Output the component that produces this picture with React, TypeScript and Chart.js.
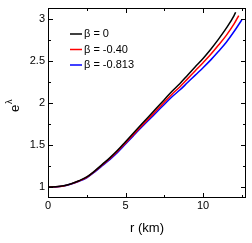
import React, { useEffect, useRef } from "react";
import { Chart, registerables } from "chart.js";

Chart.register(...registerables);

const rGrid = [0, 0.5, 1, 1.5, 2, 2.5, 3, 3.5, 4, 4.5, 5, 5.5, 6, 6.5, 7, 7.5, 8, 8.5, 9, 9.5, 10, 10.5, 11, 11.5, 12];

const r0 = [...rGrid, 12.1];
const e0 = [1.0, 1.003, 1.015, 1.04, 1.075, 1.12, 1.19, 1.27, 1.35, 1.44, 1.54, 1.64, 1.74, 1.84, 1.94, 2.04, 2.14, 2.23, 2.33, 2.43, 2.53, 2.64, 2.76, 2.89, 3.04, 3.08];

const r40 = [...rGrid, 12.3];
const e40 = [1.0, 1.003, 1.014, 1.038, 1.072, 1.116, 1.185, 1.263, 1.34, 1.428, 1.525, 1.623, 1.72, 1.816, 1.913, 2.009, 2.105, 2.191, 2.287, 2.384, 2.48, 2.58, 2.69, 2.805, 2.94, 3.04];

const r813 = [...rGrid, 12.5];
const e813 = [1.0, 1.002, 1.013, 1.036, 1.069, 1.111, 1.178, 1.254, 1.33, 1.416, 1.512, 1.609, 1.705, 1.798, 1.89, 1.983, 2.075, 2.154, 2.243, 2.332, 2.42, 2.513, 2.615, 2.723, 2.85, 2.99];

const seriesLabels = ["β = 0", "β = -0.40", "β = -0.813"];
const seriesColors = ["#000000", "#ff0000", "#0000ff"];

const xMajorTicks = [0, 5, 10];
const xMinorTicks = [2.5, 7.5, 12.5];
const yMajorTicks = [1, 1.5, 2, 2.5, 3];
const yMinorTicks = [1.25, 1.75, 2.25, 2.75];

const FONT = "'Liberation Sans', Arial, sans-serif";

const framePlugin = {
  id: "framePlugin",
  afterDraw(chart: any) {
    const ctx = chart.ctx;
    const { left, right, top, bottom } = chart.chartArea;
    const xs = chart.scales.x;
    const ys = chart.scales.y;
    ctx.save();
    ctx.strokeStyle = "#000";
    ctx.lineWidth = 1;
    ctx.strokeRect(left + 0.5, top + 0.5, right - left - 1, bottom - top - 1);
    const major = 5;
    const minor = 3;
    ctx.beginPath();
    xMajorTicks.forEach((v) => {
      const px = Math.round(xs.getPixelForValue(v)) + 0.5;
      ctx.moveTo(px, bottom); ctx.lineTo(px, bottom - major);
      ctx.moveTo(px, top); ctx.lineTo(px, top + major);
    });
    xMinorTicks.forEach((v) => {
      const px = Math.round(xs.getPixelForValue(v)) + 0.5;
      ctx.moveTo(px, bottom); ctx.lineTo(px, bottom - minor);
      ctx.moveTo(px, top); ctx.lineTo(px, top + minor);
    });
    yMajorTicks.forEach((v) => {
      const py = Math.round(ys.getPixelForValue(v)) + 0.5;
      ctx.moveTo(left, py); ctx.lineTo(left + major, py);
      ctx.moveTo(right, py); ctx.lineTo(right - major, py);
    });
    yMinorTicks.forEach((v) => {
      const py = Math.round(ys.getPixelForValue(v)) + 0.5;
      ctx.moveTo(left, py); ctx.lineTo(left + minor, py);
      ctx.moveTo(right, py); ctx.lineTo(right - minor, py);
    });
    ctx.stroke();

    // tick labels
    ctx.fillStyle = "#000";
    ctx.font = `11px ${FONT}`;
    ctx.textAlign = "center";
    ctx.textBaseline = "top";
    xMajorTicks.forEach((v) => {
      ctx.fillText(String(v), xs.getPixelForValue(v), bottom + 2);
    });
    ctx.textAlign = "right";
    ctx.textBaseline = "middle";
    yMajorTicks.forEach((v) => {
      ctx.fillText(String(v), left - 3, ys.getPixelForValue(v));
    });

    // axis titles
    ctx.font = `13px ${FONT}`;
    ctx.textAlign = "center";
    ctx.textBaseline = "middle";
    ctx.fillText("r (km)", (left + right) / 2, 228);

    ctx.save();
    ctx.translate(14, (top + bottom) / 2 + 2);
    ctx.rotate(-Math.PI / 2);
    ctx.font = `13px ${FONT}`;
    ctx.textAlign = "left";
    ctx.textBaseline = "alphabetic";
    const ew = ctx.measureText("e").width;
    const sw = 7;
    const total = ew + sw;
    ctx.fillText("e", -total / 2, 5);
    ctx.font = `9px ${FONT}`;
    ctx.fillText("λ", -total / 2 + ew + 1, -2);
    ctx.restore();

    // legend
    ctx.font = `11px ${FONT}`;
    ctx.textAlign = "left";
    ctx.textBaseline = "middle";
    chart.data.datasets.forEach((ds: any, i: number) => {
      const y = 34 + i * 15.5;
      ctx.strokeStyle = ds.borderColor;
      ctx.lineWidth = 1.5;
      ctx.beginPath();
      ctx.moveTo(70, y);
      ctx.lineTo(82, y);
      ctx.stroke();
      ctx.fillStyle = "#000";
      ctx.fillText(ds.label, 84, y);
    });
    ctx.restore();
  },
};

function toPoints(rs: number[], es: number[]) {
  return rs.map((r, i) => ({ x: r, y: es[i] }));
}

export default function App() {
  const ref = useRef<HTMLCanvasElement>(null);
  useEffect(() => {
    const canvas = ref.current!;
    const chart = new Chart(canvas, {
      type: "line",
      data: {
        datasets: [
          { label: seriesLabels[0], data: toPoints(r0, e0), borderColor: seriesColors[0] },
          { label: seriesLabels[1], data: toPoints(r40, e40), borderColor: seriesColors[1] },
          { label: seriesLabels[2], data: toPoints(r813, e813), borderColor: seriesColors[2] },
        ].map((d) => ({ ...d, borderWidth: 1.5, pointRadius: 0, tension: 0.4, cubicInterpolationMode: "monotone" as const, fill: false })),
      },
      options: {
        animation: false,
        responsive: false,
        maintainAspectRatio: false,
        layout: { padding: { left: 0, top: 8, right: 6, bottom: 0 } },
        plugins: { legend: { display: false }, tooltip: { enabled: false } },
        scales: {
          x: {
            type: "linear",
            min: 0,
            max: 12.77,
            grid: { display: false },
            border: { display: false },
            ticks: { display: false },
            afterFit: (s: any) => { s.height = 45; },
          },
          y: {
            type: "linear",
            min: 0.87,
            max: 3.13,
            grid: { display: false },
            border: { display: false },
            ticks: { display: false },
            afterFit: (s: any) => { s.width = 48; },
          },
        },
      },
      plugins: [framePlugin],
    });
    return () => chart.destroy();
  }, []);
  return (
    <div style={{ position: "absolute", left: 0, top: 0, width: 252, height: 243, background: "#fff" }}>
      <canvas ref={ref} width={252} height={243} style={{ width: 252, height: 243, display: "block" }} />
    </div>
  );
}
